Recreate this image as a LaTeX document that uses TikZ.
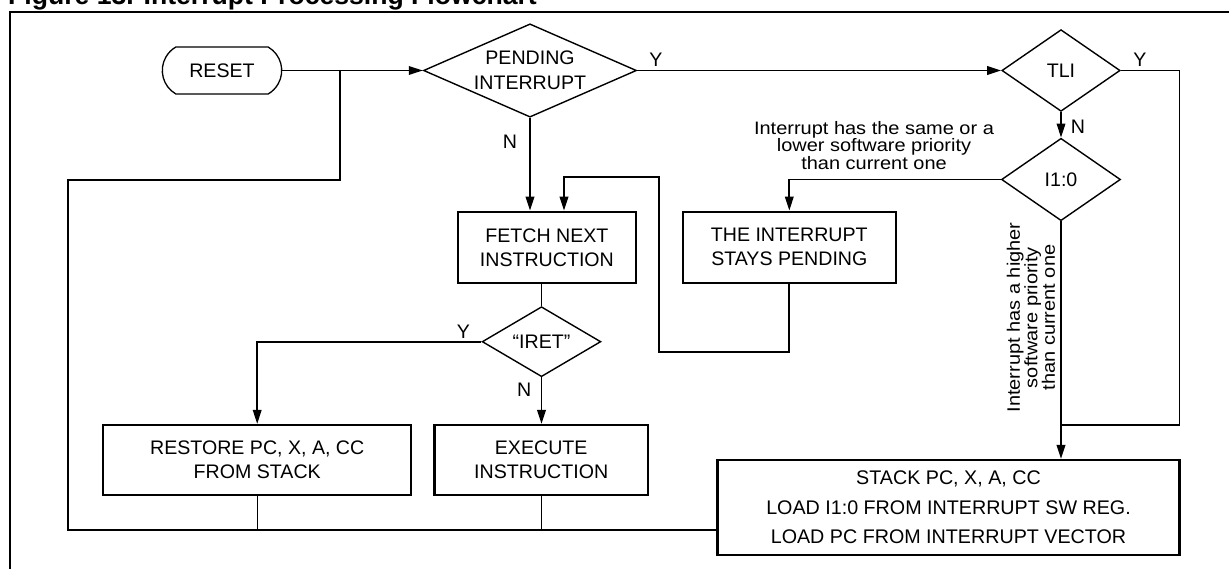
\documentclass[tikz,border=0pt]{standalone}
\usepackage{fontspec}
\setmainfont{Liberation Sans}
\newfontfamily\notefont[FakeStretch=1.11]{Liberation Sans}
\usetikzlibrary{arrows.meta,shapes.geometric,shapes.misc}
\begin{document}
\begin{tikzpicture}[x=1pt,y=-1pt,
  lbl/.style={font=\fontsize{19.6}{24}\selectfont, inner sep=0pt},
  box/.style={draw, line width=2.1pt, rectangle, inner sep=0pt, align=center, font=\fontsize{19.6}{24}\selectfont},
  dia/.style={draw, line width=1.4pt, diamond, inner sep=0pt, align=center, font=\fontsize{19.6}{25}\selectfont},
  pill/.style={draw, line width=1.3pt, rounded rectangle, rounded rectangle arc length=120, inner sep=0pt, font=\fontsize{19.6}{24}\selectfont},
  conn/.style={line width=1.9pt},
  thinconn/.style={line width=1.3pt},
  arr/.style={conn, -{Triangle[length=14pt,width=8.5pt]}},
  note/.style={font=\notefont\fontsize{18}{17.5}\selectfont, align=center, inner sep=0pt},
  frame/.style={line width=2.3pt},
]
\useasboundingbox (0,0) rectangle (1229,569);

% frame and title
\draw[frame] (10,575) -- (10,12) -- (1235,12);
\node[anchor=base west, inner sep=0pt, font=\fontsize{26.6}{30}\selectfont\bfseries] (title) at (8,5) {Figure 13. Interrupt Processing Flowchart};

% nodes
\node[pill, minimum width=119.4, minimum height=47] (reset) at (222,70.5) {RESET};
\node[dia, minimum width=213, minimum height=93.3, shape aspect=2.3] (pend) at (530,70.5) {PENDING\\INTERRUPT};
\node[box, minimum width=178.3, minimum height=71.3] (fetch) at (546.9,247.4) {FETCH NEXT\\INSTRUCTION};
\node[box, minimum width=213.3, minimum height=71] (stay) at (789.3,247.2) {THE INTERRUPT\\STAYS PENDING};
\node[dia, minimum width=118.7, minimum height=70, shape aspect=1.7] (iret) at (541.5,341.7) {“IRET”};
\node[box, minimum width=307.7, minimum height=70] (restore) at (257.2,460) {RESTORE PC, X, A, CC\\FROM STACK};
\node[box, minimum width=213.5, minimum height=70] (exec) at (541.2,460) {EXECUTE\\INSTRUCTION};
\node[dia, minimum width=118.3, minimum height=81.7, shape aspect=1.45] (tli) at (1061,70.5) {TLI};
\node[dia, minimum width=119, minimum height=82.4, shape aspect=1.45] (ilev) at (1061,179.5) {I1:0};
\node[box, minimum width=462, minimum height=95, font=\fontsize{19.7}{29.5}\selectfont] (stack) at (948.5,507.5) {STACK PC, X, A, CC\\LOAD I1:0 FROM INTERRUPT SW REG.\\LOAD PC FROM INTERRUPT VECTOR};

% labels
\node[lbl] (ypend) at (656,60) {Y};
\node[lbl] (npend) at (510,141.7) {N};
\node[lbl] (ytli) at (1140,60) {Y};
\node[lbl] (ntli) at (1078,126.7) {N};
\node[lbl] (yiret) at (463.3,331.7) {Y};
\node[lbl] (niret) at (524.3,390) {N};
\node[note] (lownote) at (874,145.5) {Interrupt has the same or a\\lower software priority\\than current one};
\node[note, rotate=90] (highnote) at (1031,317.5) {Interrupt has a higher\\software priority\\than current one};

% coordinates for routing
\coordinate (jr) at (340,70.5);
\coordinate (ja) at (340,180);
\coordinate (jb) at (68,180);
\coordinate (jc) at (68,530);
\coordinate (la) at (564,177);
\coordinate (lb) at (659,177);
\coordinate (lc) at (659,352);
\coordinate (ra) at (1179.5,70.5);
\coordinate (rb) at (1179.5,425);

% connectors
\draw[arr] (reset.east) -- (pend.west);
\draw[conn] (stack.west |- jc) -- (jc) -- (jb) -- (ja) -- (jr);
\draw[thinconn] (restore.south) -- (restore.south |- jc);
\draw[thinconn] (exec.south) -- (exec.south |- jc);
\draw[arr] (pend.south) -- (pend.south |- fetch.north);
\draw[arr] (stay.south) -- (stay.south |- lc) -- (lc) -- (lb) -- (la) -- (la |- fetch.north);
\draw[conn] (iret.north |- fetch.south) -- (iret.north);
\draw[arr] (iret.west) -- (restore.north |- iret.west) -- (restore.north);
\draw[arr] (iret.south) -- (iret.south |- exec.north);
\draw[arr] (pend.east) -- (tli.west);
\draw[arr] (tli.south) -- (ilev.north);
\draw[conn] (tli.east) -- (ra) -- (rb) -- (rb -| ilev.south);
\draw[arr] (ilev.west) -- (stay.north |- ilev.west) -- (stay.north);
\draw[arr] (ilev.south) -- (ilev.south |- stack.north);
\end{tikzpicture}
\end{document}
